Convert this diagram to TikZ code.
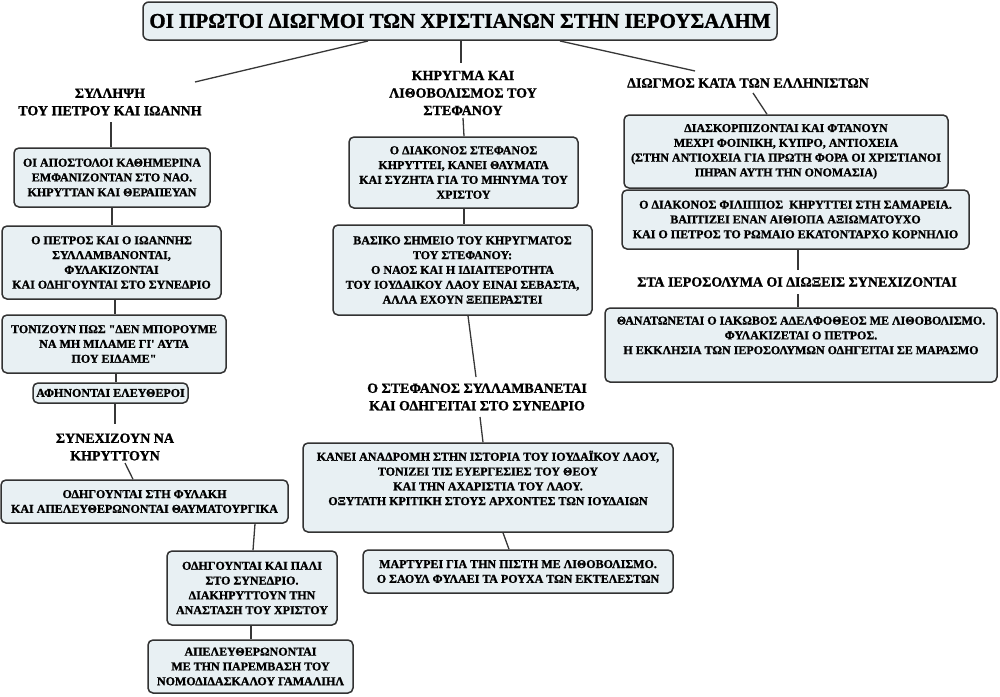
\documentclass[tikz,border=0pt]{standalone}
\usepackage{fontspec}
\setmainfont{Liberation Serif}
\newfontfamily\bfont{Liberation Serif Bold}[FakeBold=1.2]
\usetikzlibrary{calc}
\definecolor{boxfill}{RGB}{232,240,243}
\definecolor{boxline}{RGB}{50,50,50}
\definecolor{conline}{RGB}{55,55,55}
\tikzset{
  topic/.style={draw=boxline, fill=boxfill, line width=1.5pt, rounded corners=5pt,
    align=center, inner sep=1pt, font=\bfont\fontsize{12}{14.8}\selectfont},
  heading/.style={align=center, inner sep=0pt, font=\bfont\fontsize{14}{17.5}\selectfont},
  maintitle/.style={draw=boxline, fill=boxfill, line width=1.5pt, rounded corners=6pt,
    align=center, inner sep=1pt, font=\bfont\fontsize{21}{24}\selectfont},
  link/.style={draw=conline, line width=1.3pt}
}
\begin{document}
\begin{tikzpicture}[x=1pt,y=-1pt]
\useasboundingbox[fill=white] (0,0) rectangle (1000,696);
% title
\node[maintitle, minimum width=634, minimum height=38] (title) at (460,21) {ΟΙ ΠΡΩΤΟΙ ΔΙΩΓΜΟΙ ΤΩΝ ΧΡΙΣΤΙΑΝΩΝ ΣΤΗΝ ΙΕΡΟΥΣΑΛΗΜ};
% left column
\node[heading] (labL) at (110,102) {ΣΥΛΛΗΨΗ\\ΤΟΥ ΠΕΤΡΟΥ ΚΑΙ ΙΩΑΝΝΗ};
\node[topic, minimum width=196, minimum height=59] (L1) at (112,177.5) {ΟΙ ΑΠΟΣΤΟΛΟΙ ΚΑΘΗΜΕΡΙΝΑ\\ΕΜΦΑΝΙΖΟΝΤΑΝ ΣΤΟ ΝΑΟ.\\ΚΗΡΥΤΤΑΝ ΚΑΙ ΘΕΡΑΠΕΥΑΝ};
\node[topic, minimum width=219, minimum height=73] (L2) at (111.5,262.5) {Ο ΠΕΤΡΟΣ ΚΑΙ Ο ΙΩΑΝΝΗΣ\\ΣΥΛΛΑΜΒΑΝΟΝΤΑΙ,\\ΦΥΛΑΚΙΖΟΝΤΑΙ\\ΚΑΙ ΟΔΗΓΟΥΝΤΑΙ ΣΤΟ ΣΥΝΕΔΡΙΟ};
\node[topic, minimum width=224, minimum height=58] (L3) at (114,344) {ΤΟΝΙΖΟΥΝ ΠΩΣ "ΔΕΝ ΜΠΟΡΟΥΜΕ\\ΝΑ ΜΗ ΜΙΛΑΜΕ ΓΙ' ΑΥΤΑ\\ΠΟΥ ΕΙΔΑΜΕ"};
\node[topic, minimum width=155, minimum height=20] (L4) at (110.5,393) {ΑΦΗΝΟΝΤΑΙ ΕΛΕΥΘΕΡΟΙ};
\node[heading] (labL2) at (115,447) {ΣΥΝΕΧΙΖΟΥΝ ΝΑ\\ΚΗΡΥΤΤΟΥΝ};
\node[topic, minimum width=287, minimum height=43] (L5) at (144.5,501.5) {ΟΔΗΓΟΥΝΤΑΙ ΣΤΗ ΦΥΛΑΚΗ\\ΚΑΙ ΑΠΕΛΕΥΘΕΡΩΝΟΝΤΑΙ ΘΑΥΜΑΤΟΥΡΓΙΚΑ};
\node[topic, minimum width=170, minimum height=74] (L6) at (252,588) {ΟΔΗΓΟΥΝΤΑΙ ΚΑΙ ΠΑΛΙ\\ΣΤΟ ΣΥΝΕΔΡΙΟ.\\ΔΙΑΚΗΡΥΤΤΟΥΝ ΤΗΝ\\ΑΝΑΣΤΑΣΗ ΤΟΥ ΧΡΙΣΤΟΥ};
\node[topic, minimum width=205, minimum height=53] (L7) at (250.5,666.5) {ΑΠΕΛΕΥΘΕΡΩΝΟΝΤΑΙ\\ΜΕ ΤΗΝ ΠΑΡΕΜΒΑΣΗ ΤΟΥ\\ΝΟΜΟΔΙΔΑΣΚΑΛΟΥ ΓΑΜΑΛΙΗΛ};
% middle column
\node[heading] (labM) at (463,93) {ΚΗΡΥΓΜΑ ΚΑΙ\\ΛΙΘΟΒΟΛΙΣΜΟΣ ΤΟΥ\\ΣΤΕΦΑΝΟΥ};
\node[topic, minimum width=229, minimum height=71] (M1) at (463.5,172.5) {Ο ΔΙΑΚΟΝΟΣ ΣΤΕΦΑΝΟΣ\\ΚΗΡΥΤΤΕΙ, ΚΑΝΕΙ ΘΑΥΜΑΤΑ\\ΚΑΙ ΣΥΖΗΤΑ ΓΙΑ ΤΟ ΜΗΝΥΜΑ ΤΟΥ\\ΧΡΙΣΤΟΥ};
\node[topic, minimum width=259, minimum height=90] (M2) at (462.5,270) {ΒΑΣΙΚΟ ΣΗΜΕΙΟ ΤΟΥ ΚΗΡΥΓΜΑΤΟΣ\\ΤΟΥ ΣΤΕΦΑΝΟΥ:\\Ο ΝΑΟΣ ΚΑΙ Η ΙΔΙΑΙΤΕΡΟΤΗΤΑ\\ΤΟΥ ΙΟΥΔΑΙΚΟΥ ΛΑΟΥ ΕΙΝΑΙ ΣΕΒΑΣΤΑ,\\ΑΛΛΑ ΕΧΟΥΝ ΞΕΠΕΡΑΣΤΕΙ};
\node[heading] (labM2) at (477,397) {Ο ΣΤΕΦΑΝΟΣ ΣΥΛΛΑΜΒΑΝΕΤΑΙ\\ΚΑΙ ΟΔΗΓΕΙΤΑΙ ΣΤΟ ΣΥΝΕΔΡΙΟ};
\node[topic, minimum width=370, minimum height=89] (M3) at (488,487.5) {ΚΑΝΕΙ ΑΝΑΔΡΟΜΗ ΣΤΗΝ ΙΣΤΟΡΙΑ ΤΟΥ ΙΟΥΔΑΪΚΟΥ ΛΑΟΥ,\\ΤΟΝΙΖΕΙ ΤΙΣ ΕΥΕΡΓΕΣΙΕΣ ΤΟΥ ΘΕΟΥ\\ΚΑΙ ΤΗΝ ΑΧΑΡΙΣΤΙΑ ΤΟΥ ΛΑΟΥ.\\ΟΞΥΤΑΤΗ ΚΡΙΤΙΚΗ ΣΤΟΥΣ ΑΡΧΟΝΤΕΣ ΤΩΝ ΙΟΥΔΑΙΩΝ\\\strut};
\node[topic, minimum width=310, minimum height=43] (M4) at (518,571.5) {ΜΑΡΤΥΡΕΙ ΓΙΑ ΤΗΝ ΠΙΣΤΗ ΜΕ ΛΙΘΟΒΟΛΙΣΜΟ.\\Ο ΣΑΟΥΛ ΦΥΛΑΕΙ ΤΑ ΡΟΥΧΑ ΤΩΝ ΕΚΤΕΛΕΣΤΩΝ};
% right column
\node[heading] (labR) at (748,83) {ΔΙΩΓΜΟΣ ΚΑΤΑ ΤΩΝ ΕΛΛΗΝΙΣΤΩΝ};
\node[topic, minimum width=324, minimum height=73] (R1) at (786,151.5) {ΔΙΑΣΚΟΡΠΙΖΟΝΤΑΙ ΚΑΙ ΦΤΑΝΟΥΝ\\ΜΕΧΡΙ ΦΟΙΝΙΚΗ, ΚΥΠΡΟ, ΑΝΤΙΟΧΕΙΑ\\(ΣΤΗΝ ΑΝΤΙΟΧΕΙΑ ΓΙΑ ΠΡΩΤΗ ΦΟΡΑ ΟΙ ΧΡΙΣΤΙΑΝΟΙ\\ΠΗΡΑΝ ΑΥΤΗ ΤΗΝ ΟΝΟΜΑΣΙΑ)};
\node[topic, minimum width=347, minimum height=59] (R2) at (795.5,219.5) {Ο ΔΙΑΚΟΝΟΣ ΦΙΛΙΠΠΟΣ \ ΚΗΡΥΤΤΕΙ ΣΤΗ ΣΑΜΑΡΕΙΑ.\\ΒΑΠΤΙΖΕΙ ΕΝΑΝ ΑΙΘΙΟΠΑ ΑΞΙΩΜΑΤΟΥΧΟ\\ΚΑΙ Ο ΠΕΤΡΟΣ ΤΟ ΡΩΜΑΙΟ ΕΚΑΤΟΝΤΑΡΧΟ ΚΟΡΝΗΛΙΟ};
\node[heading] (labR2) at (797,282) {ΣΤΑ ΙΕΡΟΣΟΛΥΜΑ ΟΙ ΔΙΩΞΕΙΣ ΣΥΝΕΧΙΖΟΝΤΑΙ};
\node[topic, minimum width=392, minimum height=74] (R3) at (801,345) {ΘΑΝΑΤΩΝΕΤΑΙ Ο ΙΑΚΩΒΟΣ ΑΔΕΛΦΟΘΕΟΣ ΜΕ ΛΙΘΟΒΟΛΙΣΜΟ.\\ΦΥΛΑΚΙΖΕΤΑΙ Ο ΠΕΤΡΟΣ.\\Η ΕΚΚΛΗΣΙΑ ΤΩΝ ΙΕΡΟΣΟΛΥΜΩΝ ΟΔΗΓΕΙΤΑΙ ΣΕ ΜΑΡΑΣΜΟ\\\strut};
% connectors
\draw[link] ([shift={(-92,20)}]title.center) -- ([shift={(85,-20)}]labL.center);
\draw[link] ([shift={(1,20)}]title.center) -- ([shift={(-2,-30)}]labM.center);
\draw[link] ([shift={(100,20)}]title.center) -- ([shift={(-53,-12)}]labR.center);
\draw[link] ([shift={(1,20)}]labL.center) -- ([xshift=-1]L1.north);
\draw[link] (L1.south) -- ([xshift=0.5]L2.north);
\draw[link] ([xshift=3.5]L2.south) -- ([xshift=1]L3.north);
\draw[link] ([xshift=2]L3.south) -- ([xshift=5.5]L4.north);
\draw[link] ([xshift=4.5]L4.south) -- ([shift={(0,-23)}]labL2.center);
\draw[link] ([shift={(10,16)}]labL2.center) -- ([xshift=-11.5]L5.north);
\draw[link] ([xshift=110.5]L5.south) -- ([xshift=1]L6.north);
\draw[link] ([xshift=-1]L6.south) -- ([xshift=0.5]L7.north);
\draw[link] ([shift={(0,25)}]labM.center) -- ([xshift=0.5]M1.north);
\draw[link] ([xshift=0.5]M1.south) -- ([xshift=1.5]M2.north);
\draw[link] ([xshift=5.5]M2.south) -- ([shift={(-1,-20)}]labM2.center);
\draw[link] ([shift={(3,20)}]labM2.center) -- ([xshift=-5]M3.north);
\draw[link] ([xshift=15]M3.south) -- ([xshift=-9]M4.north);
\draw[link] ([shift={(5,10)}]labR.center) -- ([xshift=-19]R1.north);
\draw[link] ([xshift=2.5]R2.south) -- ([shift={(1,-12)}]labR2.center);
\draw[link] ([shift={(1,12)}]labR2.center) -- ([xshift=-3]R3.north);
\end{tikzpicture}
\end{document}
